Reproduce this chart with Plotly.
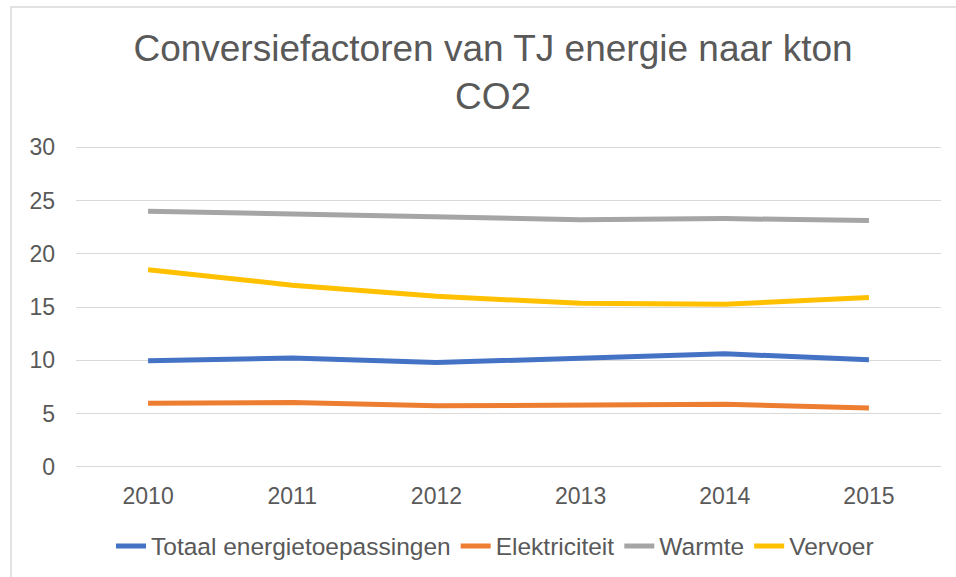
import plotly.graph_objects as go

years = ["2010", "2011", "2012", "2013", "2014", "2015"]
totaal = [9.95, 10.2, 9.78, 10.2, 10.6, 10.05]
elektriciteit = [5.95, 6.02, 5.72, 5.82, 5.86, 5.52]
warmte = [24.0, 23.75, 23.45, 23.2, 23.3, 23.12]
vervoer = [18.5, 17.05, 16.0, 15.35, 15.25, 15.9]

series = [
    ("Totaal energietoepassingen", totaal, "#4472C4"),
    ("Elektriciteit", elektriciteit, "#ED7D31"),
    ("Warmte", warmte, "#A5A5A5"),
    ("Vervoer", vervoer, "#FFC000"),
]

W, H = 956, 577
ml, mr, mt, mb = 76, 15, 146, 109

fig = go.Figure()
for name, vals, col in series:
    fig.add_trace(go.Scatter(x=years, y=vals, name=name, mode="lines",
                             line=dict(color=col, width=5)))

pw = W - ml - mr
ph = H - mt - mb
def px_x(p):
    return (p - ml) / pw
def px_y(p):
    return (H - mb - p) / ph

fig.add_shape(type="rect", xref="paper", yref="paper",
              x0=px_x(11), x1=px_x(990), y0=px_y(600), y1=px_y(7),
              line=dict(color="#D9D9D9", width=1.5), fillcolor="rgba(0,0,0,0)",
              layer="below")

fig.update_layout(
    width=W, height=H,
    margin=dict(l=ml, r=mr, t=mt, b=mb),
    paper_bgcolor="white", plot_bgcolor="white",
    font=dict(family="Liberation Sans, Arial, sans-serif", color="#595959", size=23),
    title=dict(text="Conversiefactoren van TJ energie naar kton<br>CO2",
               x=493 / W, xref="container", xanchor="center",
               y=1 - 61 / H, yref="container", yanchor="top",
               font=dict(size=37, color="#595959")),
    showlegend=True,
    legend=dict(orientation="h", x=495 / W, xref="container", xanchor="center",
                y=1 - 546 / H, yref="container", yanchor="middle",
                font=dict(size=24.5, color="#595959"),
                itemwidth=30, tracegroupgap=0),
    xaxis=dict(type="category", range=[-0.5, 5.5], showgrid=False, zeroline=False,
               showline=False, ticks="", ticklabelstandoff=12,
               tickfont=dict(size=23, color="#595959")),
    yaxis=dict(range=[-0.12, 30.12], tickvals=[0, 5, 10, 15, 20, 25, 30],
               showgrid=True, gridcolor="#D9D9D9", gridwidth=1.3,
               zeroline=False, showline=False, ticks="", ticklabelstandoff=20,
               tickfont=dict(size=23, color="#595959")),
)

fig.write_html("out.html", post_script="document.body.style.margin='0';",
               config={"displayModeBar": False})
